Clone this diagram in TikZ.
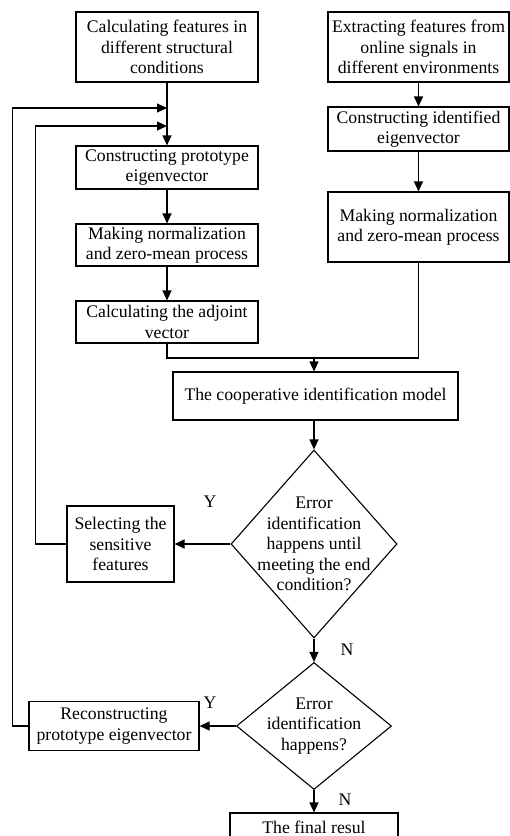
\documentclass[tikz,border=0pt]{standalone}
\usepackage{fontspec}
\setmainfont{Liberation Serif}
\usetikzlibrary{arrows.meta,shapes.geometric}
\begin{document}
\begin{tikzpicture}[x=1pt,y=-1pt,
  box/.style={draw, line width=1.1pt, align=center, inner xsep=0pt, inner ysep=0pt, font=\fontsize{17.7}{20.5}\selectfont},
  dia/.style={draw, diamond, line width=1.1pt, inner sep=0pt},
  txt/.style={align=center, inner sep=0pt, font=\fontsize{17.7}{20.5}\selectfont},
  arr/.style={-{Triangle[length=10pt,width=9pt]}, line width=1.1pt},
  ln/.style={line width=1.1pt},
]
\useasboundingbox (0,0) rectangle (510,836);
\fill[white] (0,0) rectangle (510,836);
\clip (0,0) rectangle (510,836);

\node[box, minimum width=182pt, minimum height=70pt] (b1) at (167,47) {Calculating features in\\different structural\\conditions};
\node[box, minimum width=182pt, minimum height=43pt] (b2) at (167,167.5) {Constructing prototype\\eigenvector};
\node[box, minimum width=182pt, minimum height=42pt] (b3) at (167,245) {Making normalization\\and zero-mean process};
\node[box, minimum width=182pt, minimum height=42pt] (b4) at (167,322) {Calculating the adjoint\\vector};

\node[box, minimum width=181pt, minimum height=70pt] (r1) at (418.5,47) {Extracting features from\\online signals in\\different environments};
\node[box, minimum width=181pt, minimum height=44pt] (r2) at (418.5,129) {Constructing identified\\eigenvector};
\node[box, minimum width=181pt, minimum height=70pt] (r3) at (418.5,227) {Making normalization\\and zero-mean process};

\node[box, minimum width=285pt, minimum height=48pt] (coop) at (315.5,396) {The cooperative identification model};

\node[dia, minimum width=166pt, minimum height=188pt] (d1) at (314,544) {};
\node[txt] (d1t) at (d1.center) {Error\\identification\\happens until\\meeting the end\\condition?};
\node[box, minimum width=107pt, minimum height=76pt] (sel) at (120.5,544) {Selecting the\\sensitive\\features};

\node[dia, minimum width=155pt, minimum height=127pt] (d2) at (314,726) {};
\node[txt] (d2t) at (d2.center) {Error\\identification\\happens?};
\node[box, minimum width=170pt, minimum height=49pt] (rec) at (114,726) {Reconstructing\\prototype eigenvector};

\node[box, minimum width=168pt, minimum height=28pt] (fin) at (314,827) {The final resul};

\node[txt] (y1) at (210,502) {Y};
\node[txt] (y2) at (210,703) {Y};
\node[txt] (n1) at (347,650) {N};
\node[txt] (n2) at (345,800) {N};

\coordinate (j1) at (167,108);
\coordinate (j2) at (167,126);
\coordinate (mj) at (314,358);

\draw[arr] (b1) -- (b2);
\draw[arr] (b2) -- (b3);
\draw[arr] (b3) -- (b4);
\draw[arr] (r1) -- (r2);
\draw[arr] (r2) -- (r3);
\draw[ln] (b4.south) |- (mj);
\draw[ln] (r3.south) |- (mj);
\draw[arr] (mj) -- (mj |- coop.north);
\draw[arr] (d1.north |- coop.south) -- (d1.north);
\draw[arr] (d1.west) -- (sel.east);
\draw[arr] (d1.south) -- (d2.north);
\draw[arr] (d2.west) -- (rec.east);
\draw[arr] (d2.south) -- (fin.north);
\draw[arr] (rec.west) -- ++(-16,0) |- (j1);
\draw[arr] (sel.west) -- ++(-31,0) |- (j2);
\end{tikzpicture}
\end{document}
